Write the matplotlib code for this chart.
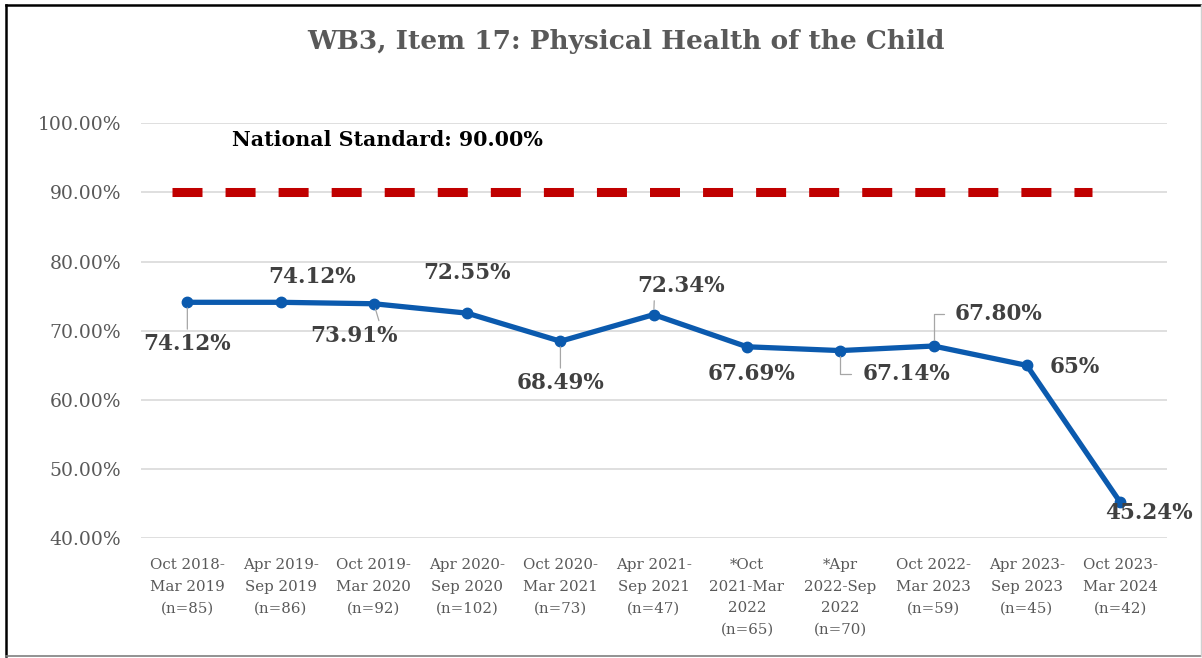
import matplotlib
matplotlib.use("Agg")
import matplotlib.pyplot as plt
from matplotlib.lines import Line2D

categories = [
    "Oct 2018-\nMar 2019\n(n=85)",
    "Apr 2019-\nSep 2019\n(n=86)",
    "Oct 2019-\nMar 2020\n(n=92)",
    "Apr 2020-\nSep 2020\n(n=102)",
    "Oct 2020-\nMar 2021\n(n=73)",
    "Apr 2021-\nSep 2021\n(n=47)",
    "*Oct\n2021-Mar\n2022\n(n=65)",
    "*Apr\n2022-Sep\n2022\n(n=70)",
    "Oct 2022-\nMar 2023\n(n=59)",
    "Apr 2023-\nSep 2023\n(n=45)",
    "Oct 2023-\nMar 2024\n(n=42)",
]
values = [74.12, 74.12, 73.91, 72.55, 68.49, 72.34, 67.69, 67.14, 67.80, 65.0, 45.24]
value_labels = ["74.12%", "74.12%", "73.91%", "72.55%", "68.49%", "72.34%",
                "67.69%", "67.14%", "67.80%", "65%", "45.24%"]
national_standard = 90.0
y_ticks = [40, 50, 60, 70, 80, 90, 100]
y_tick_labels = ["40.00%", "50.00%", "60.00%", "70.00%", "80.00%", "90.00%", "100.00%"]

title = "WB3, Item 17: Physical Health of the Child"
standard_text = "National Standard: 90.00%"

# label offsets (pixels) and leader style: None, 'line', 'elbow'
px = 0.72
label_offsets = [(0, -42), (31, 25), (-20, -32), (0, 40), (0, -42), (27, 29),
                 (5, -27), (66, -23), (65, 32), (48, -2), (29, -11)]
leaders = ['line', None, 'line', None, 'line', 'line', None, 'elbow', 'elbow', None, None]
relposes = [(0.5, 1), None, (0.8, 1), None, (0.5, 1), (0.2, 0), None, (0, 0.5), (0, 0.5), None, None]

serif = ["DejaVu Serif"]
plt.rcParams['lines.scale_dashes'] = False

fig = plt.figure(figsize=(12.02, 6.58), dpi=100)
W, H = 1202, 658
ax = fig.add_axes([140.7 / W, 1 - 538.3 / H, (1166.7 - 140.7) / W, (538.3 - 123.3) / H])

x = list(range(len(categories)))
ax.set_xlim(-0.5, len(categories) - 0.5)
ax.set_ylim(40, 100)

ax.set_yticks(y_ticks)
ax.set_yticklabels(y_tick_labels, family=serif, fontsize=13.5, color="#595959")
ax.set_xticks(x)
ax.set_xticklabels(categories, family=serif, fontsize=10.8, color="#595959", linespacing=1.68)
ax.tick_params(axis='both', length=0)
ax.tick_params(axis='x', pad=14.5)
ax.tick_params(axis='y', pad=14)
for s in ax.spines.values():
    s.set_visible(False)
ax.grid(axis='y', color="#D9D9D9", lw=1.2)
ax.set_axisbelow(True)

# national standard line
ax.plot([-0.16, 9.70], [national_standard, national_standard], color="#C00000", lw=6.5,
        linestyle=(0, (21.6, 16.6)), solid_capstyle='butt', dash_capstyle='butt', zorder=3)

ax.plot(x, values, color="#0B5AAE", lw=3.8, marker='o', markersize=7.5, zorder=4)

for i, (v, lab) in enumerate(zip(values, value_labels)):
    dx, dy = label_offsets[i]
    kw = {}
    if leaders[i] == 'line':
        kw['arrowprops'] = dict(arrowstyle='-', color="#A6A6A6", lw=0.9, shrinkA=1, shrinkB=4,
                                relpos=relposes[i])
    elif leaders[i] == 'elbow':
        kw['arrowprops'] = dict(arrowstyle='-', color="#A6A6A6", lw=0.9, shrinkA=6, shrinkB=4,
                                relpos=relposes[i],
                                connectionstyle="angle,angleA=0,angleB=90,rad=0")
    ax.annotate(lab, (i, v), xytext=(dx * px, dy * px), textcoords='offset points',
                ha='center', va='center', family=serif, fontweight='bold', fontsize=15.5,
                color="#404040", zorder=5, **kw)

fig.text(626 / W, 1 - 41 / H, title, ha='center', va='center', family=serif,
         fontweight='bold', fontsize=19, color="#595959")
fig.text(387 / W, 1 - 140 / H, standard_text, ha='center', va='center', family=serif,
         fontweight='bold', fontsize=14.8, color="black")

# outer frame
fig.add_artist(Line2D([6 / W, 1200 / W], [1 - 5 / H, 1 - 5 / H], transform=fig.transFigure, color="black", lw=1.8))
fig.add_artist(Line2D([6 / W, 6 / W], [1 - 5 / H, 1 - 656 / H], transform=fig.transFigure, color="black", lw=1.8))
fig.add_artist(Line2D([6 / W, 1201 / W], [1 - 656 / H, 1 - 656 / H], transform=fig.transFigure, color="#7F7F7F", lw=1.2))
fig.add_artist(Line2D([1200.5 / W, 1200.5 / W], [1 - 5 / H, 1 - 656 / H], transform=fig.transFigure, color="#D0D0D0", lw=1.0))

fig.savefig("out.png", dpi=100)
